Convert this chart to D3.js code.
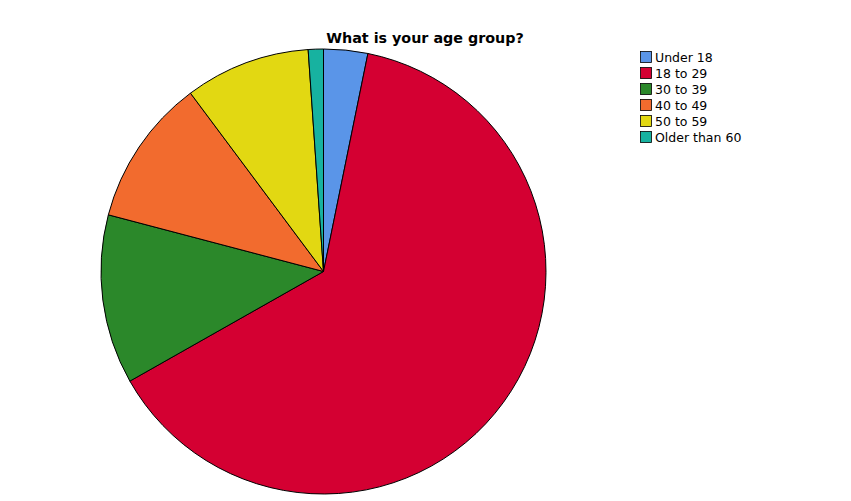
<!DOCTYPE html>
<html>
<head>
<meta charset="utf-8">
<script src="https://cdn.jsdelivr.net/npm/d3@7"></script>
<style>
body { margin: 0; background: #fff; }
</style>
</head>
<body>
<div id="chart"></div>
<script>
var categories = ["Under 18", "18 to 29", "30 to 39", "40 to 49", "50 to 59", "Older than 60"];
var percents = [3.2, 63.6, 12.3, 10.7, 9.1, 1.1];
var colors = ["#5a95e8", "#d40032", "#2b882a", "#f26b2e", "#e2d812", "#17b2a0"];

var width = 851;
var height = 501;
var radius = 222.5;

var svg = d3.select('#chart')
	.append('svg')
	.attr('width', width)
	.attr('height', height);

svg.append('text')
	.attr('x', 425)
	.attr('y', 43)
	.attr('text-anchor', 'middle')
	.style('font-family', 'DejaVu Sans')
	.style('font-weight', 'bold')
	.style('font-size', '14.3px')
	.text('What is your age group?');

var color = d3.scaleOrdinal().domain(categories).range(colors);

var pie = d3.pie()
	.value(function(d) {return d.value;})
	.sort(null);

var arc = d3.arc()
	.innerRadius(0)
	.outerRadius(radius);

var dataset = categories.map(function(c, i) {
	return {label: c, value: percents[i]};
});

var g = svg.append('g')
	.attr('transform', 'translate(323.5,271.5)');

g.selectAll('path')
	.data(pie(dataset))
	.enter()
	.append('path')
	.attr('d', arc)
	.attr('fill', function(d) {return color(d.data.label);})
	.attr('stroke', '#000')
	.attr('stroke-width', 1);

var legend = svg.selectAll('.legend')
	.data(categories)
	.enter()
	.append('g')
	.attr('class', 'legend')
	.attr('transform', function(d, i) {
		return 'translate(640,' + (51 + i * 16) + ')';
	});

legend.append('rect')
	.attr('x', 0.5)
	.attr('y', 0.5)
	.attr('width', 11)
	.attr('height', 11)
	.style('fill', color)
	.style('stroke', '#000')
	.style('stroke-width', 0.8);

legend.append('text')
	.attr('x', 15)
	.attr('y', 11)
	.style('font-family', 'DejaVu Sans')
	.style('font-size', '12.5px')
	.text(function(d) {return d;});
</script>
</body>
</html>
